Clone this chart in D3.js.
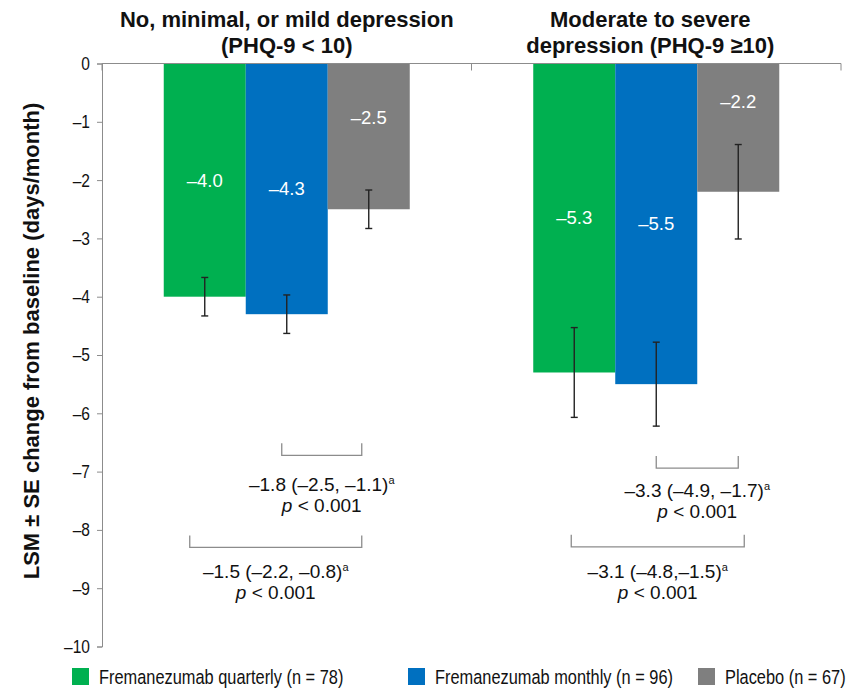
<!DOCTYPE html>
<html><head><meta charset="utf-8">
<script src="https://cdn.jsdelivr.net/npm/d3@7"></script>
<style>
html,body{margin:0;padding:0;background:#fff;}
svg{display:block;font-family:"Liberation Sans",Arial,Helvetica,sans-serif;}
</style></head><body>
<svg id="chart" width="859" height="691"></svg>
<script>
// --- data ---
const groups = ["mild", "moderateSevere"];
const groupTitles = [
  ["No, minimal, or mild depression", "(PHQ-9 < 10)"],
  ["Moderate to severe", "depression (PHQ-9 ≥10)"]
];
const seriesNames = ["Fremanezumab quarterly (n = 78)", "Fremanezumab monthly (n = 96)", "Placebo (n = 67)"];
const seriesColors = ["#00b050", "#0070c0", "#7f7f7f"];
const quarterly = [-4.0, -5.3];
const monthly = [-4.3, -5.5];
const placebo = [-2.5, -2.2];
const seQuarterly = [0.33, 0.77];
const seMonthly = [0.33, 0.72];
const sePlacebo = [0.33, 0.81];
const yTicks = [0, -1, -2, -3, -4, -5, -6, -7, -8, -9, -10];
const comparisons = [
  { group: 0, from: 1, to: 2, diff: "–1.8 (–2.5, –1.1)", p: "0.001" },
  { group: 0, from: 0, to: 2, diff: "–1.5 (–2.2, –0.8)", p: "0.001" },
  { group: 1, from: 1, to: 2, diff: "–3.3 (–4.9, –1.7)", p: "0.001" },
  { group: 1, from: 0, to: 2, diff: "–3.1 (–4.8,–1.5)", p: "0.001" }
];

// --- annotation layout ---
const bracketLevels = [-6.72, -8.30, -6.94, -8.29];   // bracket bottom, in axis units
const bracketNudge = [[-5, -7], [-15, -7], [0, 0], [-3, 6]];
const textGap = [29, 24, 22, 24];
const placeboLabelAt = [-0.93, -0.66];
const narrow = 0.84;   // horizontal squeeze for the condensed tick / legend lettering

const values = [quarterly, monthly, placebo];
const errors = [seQuarterly, seMonthly, sePlacebo];
const rows = [];
groups.forEach((g, gi) => seriesNames.forEach((s, si) => {
  rows.push({ group: g, gi, series: s, si, value: values[si][gi], se: errors[si][gi] });
}));

const svg = d3.select("#chart");
const dash = v => (v < 0 ? "–" : "");
const fmtValue = v => dash(v) + d3.format(".1f")(Math.abs(v));
const fmtTick = v => v === 0 ? "0" : dash(v) + Math.abs(v);

const x0 = d3.scaleBand().domain(groups).range([102, 841]).paddingInner(0).paddingOuter(0);
const x1 = d3.scaleBand().domain(seriesNames).range([0, x0.bandwidth()]).paddingInner(0).paddingOuter(0.753);
const y = d3.scaleLinear().domain([0, -10]).range([63.5, 646.5]);
const color = d3.scaleOrdinal().domain(seriesNames).range(seriesColors);
const cx = d => x0(d.group) + x1(d.series) + x1.bandwidth() / 2;

// bars
svg.append("g").selectAll("rect").data(rows).join("rect")
  .attr("x", d => x0(d.group) + x1(d.series))
  .attr("y", d => y(0))
  .attr("width", x1.bandwidth())
  .attr("height", d => y(d.value) - y(0))
  .attr("fill", d => color(d.series));

// error bars
const eb = svg.append("g").attr("stroke", "#222").attr("stroke-width", 1.4);
rows.forEach(d => {
  const c = cx(d);
  eb.append("line").attr("x1", c).attr("x2", c).attr("y1", y(d.value + d.se)).attr("y2", y(d.value - d.se));
  [d.value + d.se, d.value - d.se].forEach(v =>
    eb.append("line").attr("x1", c - 3.5).attr("x2", c + 3.5).attr("y1", y(v)).attr("y2", y(v)));
});

// value labels
svg.append("g").selectAll("text").data(rows).join("text")
  .attr("x", cx)
  .attr("y", d => y(d.si === 2 ? placeboLabelAt[d.gi] : d.value / 2) + 6.5)
  .attr("text-anchor", "middle")
  .attr("fill", "#fff")
  .attr("font-size", 18.5)
  .text(d => fmtValue(d.value));

// y axis
const yAxis = svg.append("g").attr("transform", "translate(102,0)")
  .call(d3.axisLeft(y).tickValues(yTicks).tickFormat(fmtTick).tickSize(5).tickSizeOuter(5).tickPadding(7));
yAxis.select(".domain").attr("stroke", "#8c8c8c");
yAxis.selectAll(".tick line").attr("stroke", "#8c8c8c");
yAxis.selectAll(".tick text").attr("font-size", 18.5).attr("fill", "#111")
  .attr("x", 0).attr("transform", `translate(-12,0) scale(${narrow},1)`);

// top category line with separators
const topAxis = svg.append("g").attr("stroke", "#8c8c8c").attr("stroke-width", 1);
topAxis.append("line").attr("x1", x0.range()[0]).attr("x2", x0.range()[1]).attr("y1", y(0)).attr("y2", y(0));
[x0.range()[0], x0(groups[1]), x0.range()[1]].forEach(px =>
  topAxis.append("line").attr("x1", px).attr("x2", px).attr("y1", y(0)).attr("y2", y(0) + 7));

// group titles
groupTitles.forEach((lines, gi) => {
  const tx = x0(groups[gi]) + x0.bandwidth() / 2 - (gi === 1 ? 6 : 0);
  const t = svg.append("text")
    .attr("text-anchor", "middle").attr("font-weight", "bold").attr("font-size", 22).attr("fill", "#111");
  lines.forEach((ln, li) => t.append("tspan").attr("x", tx).attr("y", 27 + li * 26).text(ln));
});

// y axis title
svg.append("text")
  .attr("transform", "translate(31,341) rotate(-90)")
  .attr("text-anchor", "middle").attr("dominant-baseline", "central")
  .attr("font-weight", "bold").attr("font-size", 22).attr("fill", "#111")
  .text("LSM ± SE change from baseline (days/month)");

// comparison brackets
const br = svg.append("g");
comparisons.forEach((c, i) => {
  const g = groups[c.group];
  const xa = x0(g) + x1(seriesNames[c.from]) + x1.bandwidth() / 2 + bracketNudge[i][0];
  const xb = x0(g) + x1(seriesNames[c.to]) + x1.bandwidth() / 2 + bracketNudge[i][1];
  const yb = y(bracketLevels[i]);
  br.append("path")
    .attr("d", `M${xa},${yb - 12}V${yb}H${xb}V${yb - 12}`)
    .attr("fill", "none").attr("stroke", "#8c8c8c").attr("stroke-width", 1.3);
  const mid = (xa + xb) / 2;
  const t1 = br.append("text").attr("x", mid).attr("y", yb + textGap[i] + 7)
    .attr("text-anchor", "middle").attr("font-size", 19).attr("fill", "#111");
  t1.append("tspan").text(c.diff);
  t1.append("tspan").attr("font-size", 11).attr("dy", -7).text("a");
  const t2 = br.append("text").attr("x", mid).attr("y", yb + textGap[i] + 28)
    .attr("text-anchor", "middle").attr("font-size", 19).attr("fill", "#111");
  t2.append("tspan").attr("font-style", "italic").text("p");
  t2.append("tspan").text(" < " + c.p);
});

// legend
const legendX = [72, 408, 698];
const lg = svg.append("g");
seriesNames.forEach((s, i) => {
  lg.append("rect").attr("x", legendX[i]).attr("y", 668).attr("width", 17).attr("height", 17).attr("fill", color(s));
  lg.append("text")
    .attr("transform", `translate(${legendX[i] + 27},684) scale(${narrow},1)`)
    .attr("font-size", 19.5).attr("fill", "#111")
    .text(s);
});
</script>
</body></html>
